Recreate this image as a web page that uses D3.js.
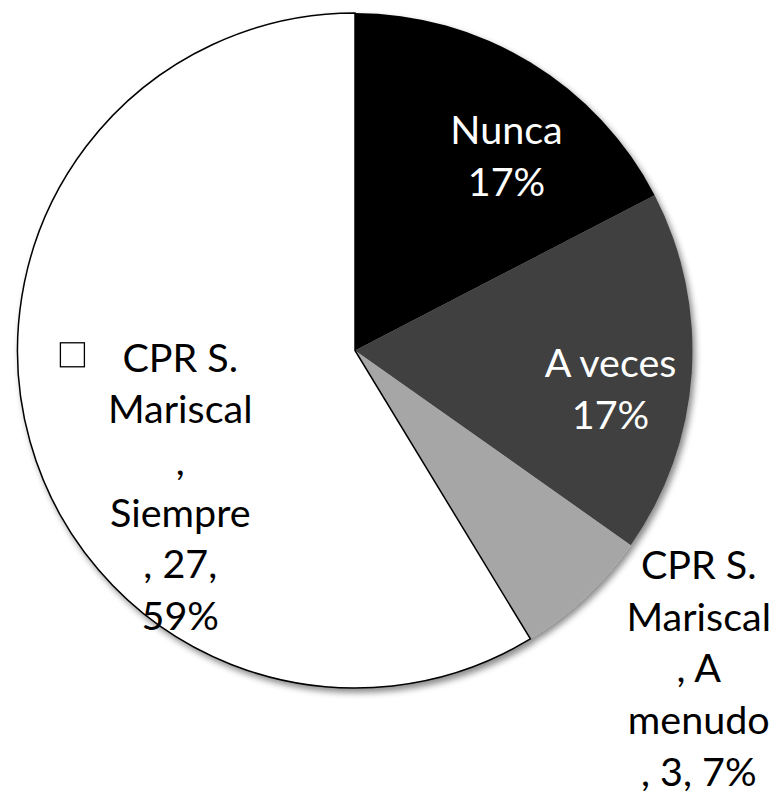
<!DOCTYPE html>
<html>
<head>
<meta charset="utf-8">
<script src="https://cdn.jsdelivr.net/npm/d3@7"></script>
<style>
  html, body { margin: 0; padding: 0; background: #fff; }
  svg { display: block; }
</style>
</head>
<body>
<svg id="chart" width="776" height="794"></svg>
<script>
// ---- data ----
const categories = ["Nunca", "A veces", "A menudo", "Siempre"];
const values = [8, 8, 3, 27];
const colors = ["#000000", "#404040", "#a6a6a6", "#ffffff"];
const labelLines = [
  ["Nunca", "17%"],
  ["A veces", "17%"],
  ["CPR S.", "Mariscal", ", A", "menudo", ", 3, 7%"],
  ["CPR S.", "Mariscal", ",", "Siempre", ", 27,", "59%"]
];
const labelColors = ["#ffffff", "#ffffff", "#000000", "#000000"];
const labelNudge = [[20, 22], [3, 21], [171, 133], [69, 68]];
const showKey = [false, false, false, true];

// ---- layout ----
const W = 776, H = 794;
const cx = 355, cy = 350.5, R = 337.5;
const fontSize = 39.5, lineH = 51.6, fontFamily = "Lato, 'Open Sans', sans-serif";

const svg = d3.select("#chart");
const defs = svg.append("defs");
const f = defs.append("filter").attr("id", "shadow")
  .attr("x", "-10%").attr("y", "-10%").attr("width", "120%").attr("height", "120%");
f.append("feDropShadow").attr("dx", 3).attr("dy", 4).attr("stdDeviation", 3)
  .attr("flood-color", "#000").attr("flood-opacity", 0.45);

const pie = d3.pie().sort(null).value(d => d)(values);
const arc = d3.arc().innerRadius(0).outerRadius(R);
const labelArc = d3.arc().innerRadius(R * 0.75).outerRadius(R * 0.75);

const g = svg.append("g").attr("transform", `translate(${cx},${cy})`);

const slices = g.append("g").attr("filter", "url(#shadow)");
slices.selectAll("path").data(pie).join("path")
  .attr("d", arc)
  .attr("fill", (d, i) => colors[i])
  .attr("stroke", (d, i) => i === 3 ? "#000" : "none")
  .attr("stroke-width", 1.5)
  .attr("stroke-linejoin", "miter");

// labels
pie.forEach((d, i) => {
  const c = labelArc.centroid(d);
  const x = c[0] + labelNudge[i][0];
  const y = c[1] + labelNudge[i][1];
  const lines = labelLines[i];
  const n = lines.length;
  const t = g.append("text")
    .attr("text-anchor", "middle")
    .attr("font-family", fontFamily)
    .attr("font-size", fontSize)
    .attr("fill", labelColors[i]);
  lines.forEach((s, k) => {
    t.append("tspan")
      .attr("x", x)
      .attr("y", y + (k - (n - 1) / 2) * lineH + 14)
      .text(s);
  });
  if (showKey[i]) {
    const first = t.select("tspan").node();
    const w = first.getComputedTextLength();
    const left = x - w / 2;
    const base = y - (n - 1) / 2 * lineH + 14;
    g.append("rect")
      .attr("x", left - 62)
      .attr("y", base - 29)
      .attr("width", 24)
      .attr("height", 24)
      .attr("fill", "#fff")
      .attr("stroke", "#000")
      .attr("stroke-width", 1.3);
  }
});
</script>
</body>
</html>
